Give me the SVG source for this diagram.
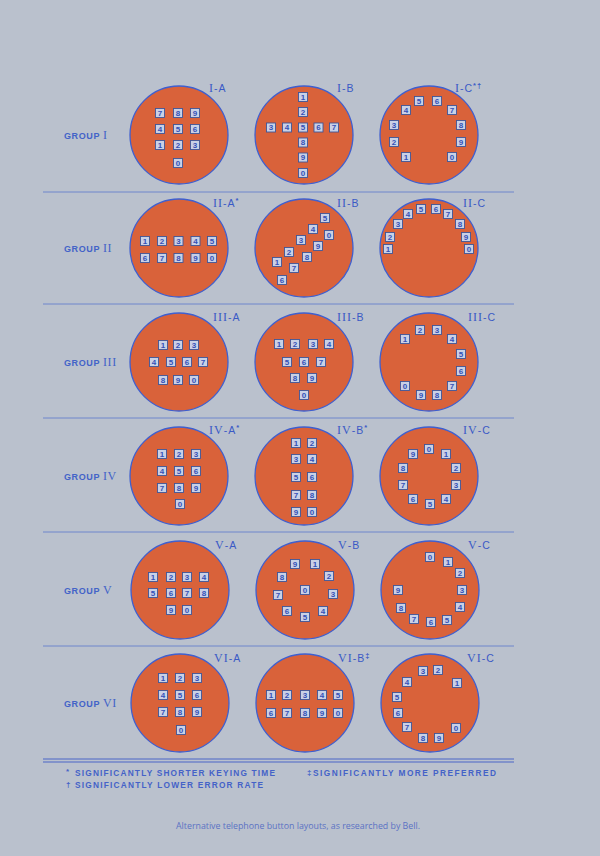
<svg xmlns="http://www.w3.org/2000/svg" width="600" height="856" viewBox="0 0 600 856">
<style>
.c{fill:#d9623a;stroke:#3f5fcf;stroke-width:1.3}
.k rect{fill:#c9d1e6;stroke:#3f5598;stroke-width:.9}
.k text{font-family:"Liberation Sans",Arial,sans-serif;font-weight:bold;font-size:8px;fill:#3450b8;text-anchor:middle}
.lbl{font-family:"Liberation Sans",Arial,sans-serif;font-size:10.5px;fill:#3a5ac6;letter-spacing:1px}
.rn{font-family:"Liberation Serif","Times New Roman",serif;font-size:12px}
.sup{font-size:7.5px;font-weight:bold}
.grp{font-family:"Liberation Sans",Arial,sans-serif;font-weight:bold;font-size:9px;fill:#4363c8;letter-spacing:.6px}
.rule{stroke:#6f86cc;stroke-width:1;fill:none}
.rule2{stroke:#4a66c8;stroke-width:1.1;fill:none}
.fn{font-family:"Liberation Sans",Arial,sans-serif;font-weight:bold;font-size:8.3px;fill:#4462c8}
.cap{font-family:"Open Sans","Liberation Sans",sans-serif;font-size:8.8px;fill:#5b72c4;text-anchor:middle}
</style>
<rect width="600" height="856" fill="#bac1cd"/>
<g id="connectors"></g>
<g id="rules">
<line class="rule" x1="43" y1="192" x2="514" y2="192"/>
<line class="rule" x1="43" y1="304" x2="514" y2="304"/>
<line class="rule" x1="43" y1="418" x2="514" y2="418"/>
<line class="rule" x1="43" y1="532" x2="514" y2="532"/>
<line class="rule" x1="43" y1="646" x2="514" y2="646"/>
<line class="rule2" x1="43" y1="759" x2="514" y2="759"/>
<line class="rule2" x1="43" y1="762" x2="514" y2="762"/>
</g>

<!-- GROUP I -->
<g id="group-1">
<text class="grp" x="64" y="139">GROUP <tspan class="rn" font-weight="normal">I</tspan></text>
<g id="I-A">
<circle class="c" cx="179" cy="135" r="49"/>
<text class="lbl" x="209" y="92"><tspan class="rn">I</tspan>-A</text>
<g class="k" transform="translate(160 113)"><rect x="-4.5" y="-4.5" width="9" height="9"/><text y="2.9">7</text></g>
<g class="k" transform="translate(178 113)"><rect x="-4.5" y="-4.5" width="9" height="9"/><text y="2.9">8</text></g>
<g class="k" transform="translate(195 113)"><rect x="-4.5" y="-4.5" width="9" height="9"/><text y="2.9">9</text></g>
<g class="k" transform="translate(160 129)"><rect x="-4.5" y="-4.5" width="9" height="9"/><text y="2.9">4</text></g>
<g class="k" transform="translate(178 129)"><rect x="-4.5" y="-4.5" width="9" height="9"/><text y="2.9">5</text></g>
<g class="k" transform="translate(195 129)"><rect x="-4.5" y="-4.5" width="9" height="9"/><text y="2.9">6</text></g>
<g class="k" transform="translate(160 145)"><rect x="-4.5" y="-4.5" width="9" height="9"/><text y="2.9">1</text></g>
<g class="k" transform="translate(178 145)"><rect x="-4.5" y="-4.5" width="9" height="9"/><text y="2.9">2</text></g>
<g class="k" transform="translate(195 145)"><rect x="-4.5" y="-4.5" width="9" height="9"/><text y="2.9">3</text></g>
<g class="k" transform="translate(178 163)"><rect x="-4.5" y="-4.5" width="9" height="9"/><text y="2.9">0</text></g>
</g>
<g id="I-B">
<circle class="c" cx="304" cy="135" r="49"/>
<text class="lbl" x="337" y="92"><tspan class="rn">I</tspan>-B</text>
<g class="k" transform="translate(303 97)"><rect x="-4.5" y="-4.5" width="9" height="9"/><text y="2.9">1</text></g>
<g class="k" transform="translate(303 112)"><rect x="-4.5" y="-4.5" width="9" height="9"/><text y="2.9">2</text></g>
<g class="k" transform="translate(271 127.5)"><rect x="-4.5" y="-4.5" width="9" height="9"/><text y="2.9">3</text></g>
<g class="k" transform="translate(287 127.5)"><rect x="-4.5" y="-4.5" width="9" height="9"/><text y="2.9">4</text></g>
<g class="k" transform="translate(303 127.5)"><rect x="-4.5" y="-4.5" width="9" height="9"/><text y="2.9">5</text></g>
<g class="k" transform="translate(318.5 127.5)"><rect x="-4.5" y="-4.5" width="9" height="9"/><text y="2.9">6</text></g>
<g class="k" transform="translate(334 127.5)"><rect x="-4.5" y="-4.5" width="9" height="9"/><text y="2.9">7</text></g>
<g class="k" transform="translate(303 142.5)"><rect x="-4.5" y="-4.5" width="9" height="9"/><text y="2.9">8</text></g>
<g class="k" transform="translate(303 157.5)"><rect x="-4.5" y="-4.5" width="9" height="9"/><text y="2.9">9</text></g>
<g class="k" transform="translate(303 173)"><rect x="-4.5" y="-4.5" width="9" height="9"/><text y="2.9">0</text></g>
</g>
<g id="I-C">
<circle class="c" cx="429" cy="135" r="49"/>
<text class="lbl" x="455" y="92"><tspan class="rn">I</tspan>-C<tspan class="sup" dy="-4">*†</tspan></text>
<g class="k" transform="translate(419 101)"><rect x="-4.5" y="-4.5" width="9" height="9"/><text y="2.9">5</text></g>
<g class="k" transform="translate(437 101)"><rect x="-4.5" y="-4.5" width="9" height="9"/><text y="2.9">6</text></g>
<g class="k" transform="translate(406 110)"><rect x="-4.5" y="-4.5" width="9" height="9"/><text y="2.9">4</text></g>
<g class="k" transform="translate(452 110)"><rect x="-4.5" y="-4.5" width="9" height="9"/><text y="2.9">7</text></g>
<g class="k" transform="translate(394 125)"><rect x="-4.5" y="-4.5" width="9" height="9"/><text y="2.9">3</text></g>
<g class="k" transform="translate(461 125)"><rect x="-4.5" y="-4.5" width="9" height="9"/><text y="2.9">8</text></g>
<g class="k" transform="translate(394 142)"><rect x="-4.5" y="-4.5" width="9" height="9"/><text y="2.9">2</text></g>
<g class="k" transform="translate(461 142)"><rect x="-4.5" y="-4.5" width="9" height="9"/><text y="2.9">9</text></g>
<g class="k" transform="translate(406 157)"><rect x="-4.5" y="-4.5" width="9" height="9"/><text y="2.9">1</text></g>
<g class="k" transform="translate(452 157)"><rect x="-4.5" y="-4.5" width="9" height="9"/><text y="2.9">0</text></g>
</g>
</g>

<!-- GROUP II -->
<g id="group-2">
<text class="grp" x="64" y="252">GROUP <tspan class="rn" font-weight="normal">II</tspan></text>
<g id="II-A">
<circle class="c" cx="179" cy="248" r="49"/>
<text class="lbl" x="213" y="207"><tspan class="rn">II</tspan>-A<tspan class="sup" dy="-4">*</tspan></text>
<g class="k" transform="translate(145 241)"><rect x="-4.5" y="-4.5" width="9" height="9"/><text y="2.9">1</text></g>
<g class="k" transform="translate(162 241)"><rect x="-4.5" y="-4.5" width="9" height="9"/><text y="2.9">2</text></g>
<g class="k" transform="translate(178.5 241)"><rect x="-4.5" y="-4.5" width="9" height="9"/><text y="2.9">3</text></g>
<g class="k" transform="translate(195.5 241)"><rect x="-4.5" y="-4.5" width="9" height="9"/><text y="2.9">4</text></g>
<g class="k" transform="translate(212 241)"><rect x="-4.5" y="-4.5" width="9" height="9"/><text y="2.9">5</text></g>
<g class="k" transform="translate(145 258)"><rect x="-4.5" y="-4.5" width="9" height="9"/><text y="2.9">6</text></g>
<g class="k" transform="translate(162 258)"><rect x="-4.5" y="-4.5" width="9" height="9"/><text y="2.9">7</text></g>
<g class="k" transform="translate(178.5 258)"><rect x="-4.5" y="-4.5" width="9" height="9"/><text y="2.9">8</text></g>
<g class="k" transform="translate(195.5 258)"><rect x="-4.5" y="-4.5" width="9" height="9"/><text y="2.9">9</text></g>
<g class="k" transform="translate(212 258)"><rect x="-4.5" y="-4.5" width="9" height="9"/><text y="2.9">0</text></g>
</g>
<g id="II-B">
<circle class="c" cx="304" cy="248" r="49"/>
<text class="lbl" x="337" y="207"><tspan class="rn">II</tspan>-B</text>
<g class="k" transform="translate(325 218)"><rect x="-4.5" y="-4.5" width="9" height="9"/><text y="2.9">5</text></g>
<g class="k" transform="translate(313 229)"><rect x="-4.5" y="-4.5" width="9" height="9"/><text y="2.9">4</text></g>
<g class="k" transform="translate(329 235)"><rect x="-4.5" y="-4.5" width="9" height="9"/><text y="2.9">0</text></g>
<g class="k" transform="translate(301 240)"><rect x="-4.5" y="-4.5" width="9" height="9"/><text y="2.9">3</text></g>
<g class="k" transform="translate(318 246)"><rect x="-4.5" y="-4.5" width="9" height="9"/><text y="2.9">9</text></g>
<g class="k" transform="translate(289 252)"><rect x="-4.5" y="-4.5" width="9" height="9"/><text y="2.9">2</text></g>
<g class="k" transform="translate(307 257)"><rect x="-4.5" y="-4.5" width="9" height="9"/><text y="2.9">8</text></g>
<g class="k" transform="translate(277 262)"><rect x="-4.5" y="-4.5" width="9" height="9"/><text y="2.9">1</text></g>
<g class="k" transform="translate(294 268)"><rect x="-4.5" y="-4.5" width="9" height="9"/><text y="2.9">7</text></g>
<g class="k" transform="translate(282 280)"><rect x="-4.5" y="-4.5" width="9" height="9"/><text y="2.9">6</text></g>
</g>
<g id="II-C">
<circle class="c" cx="429" cy="248" r="49"/>
<text class="lbl" x="463" y="207"><tspan class="rn">II</tspan>-C</text>
<g class="k" transform="translate(421 209)"><rect x="-4.5" y="-4.5" width="9" height="9"/><text y="2.9">5</text></g>
<g class="k" transform="translate(436 209)"><rect x="-4.5" y="-4.5" width="9" height="9"/><text y="2.9">6</text></g>
<g class="k" transform="translate(408 214)"><rect x="-4.5" y="-4.5" width="9" height="9"/><text y="2.9">4</text></g>
<g class="k" transform="translate(448 214)"><rect x="-4.5" y="-4.5" width="9" height="9"/><text y="2.9">7</text></g>
<g class="k" transform="translate(398 224)"><rect x="-4.5" y="-4.5" width="9" height="9"/><text y="2.9">3</text></g>
<g class="k" transform="translate(460 224)"><rect x="-4.5" y="-4.5" width="9" height="9"/><text y="2.9">8</text></g>
<g class="k" transform="translate(390 237)"><rect x="-4.5" y="-4.5" width="9" height="9"/><text y="2.9">2</text></g>
<g class="k" transform="translate(466 237)"><rect x="-4.5" y="-4.5" width="9" height="9"/><text y="2.9">9</text></g>
<g class="k" transform="translate(388 249)"><rect x="-4.5" y="-4.5" width="9" height="9"/><text y="2.9">1</text></g>
<g class="k" transform="translate(469 249)"><rect x="-4.5" y="-4.5" width="9" height="9"/><text y="2.9">0</text></g>
</g>
</g>

<!-- GROUP III -->
<g id="group-3">
<text class="grp" x="64" y="366">GROUP <tspan class="rn" font-weight="normal">III</tspan></text>
<g id="III-A">
<circle class="c" cx="179" cy="362" r="49"/>
<text class="lbl" x="213" y="321"><tspan class="rn">III</tspan>-A</text>
<g class="k" transform="translate(163 345)"><rect x="-4.5" y="-4.5" width="9" height="9"/><text y="2.9">1</text></g>
<g class="k" transform="translate(178 345)"><rect x="-4.5" y="-4.5" width="9" height="9"/><text y="2.9">2</text></g>
<g class="k" transform="translate(194 345)"><rect x="-4.5" y="-4.5" width="9" height="9"/><text y="2.9">3</text></g>
<g class="k" transform="translate(154 362)"><rect x="-4.5" y="-4.5" width="9" height="9"/><text y="2.9">4</text></g>
<g class="k" transform="translate(171 362)"><rect x="-4.5" y="-4.5" width="9" height="9"/><text y="2.9">5</text></g>
<g class="k" transform="translate(187 362)"><rect x="-4.5" y="-4.5" width="9" height="9"/><text y="2.9">6</text></g>
<g class="k" transform="translate(203 362)"><rect x="-4.5" y="-4.5" width="9" height="9"/><text y="2.9">7</text></g>
<g class="k" transform="translate(163 380)"><rect x="-4.5" y="-4.5" width="9" height="9"/><text y="2.9">8</text></g>
<g class="k" transform="translate(178 380)"><rect x="-4.5" y="-4.5" width="9" height="9"/><text y="2.9">9</text></g>
<g class="k" transform="translate(194 380)"><rect x="-4.5" y="-4.5" width="9" height="9"/><text y="2.9">0</text></g>
</g>
<g id="III-B">
<circle class="c" cx="304" cy="362" r="49"/>
<text class="lbl" x="337" y="321"><tspan class="rn">III</tspan>-B</text>
<g class="k" transform="translate(279 344)"><rect x="-4.5" y="-4.5" width="9" height="9"/><text y="2.9">1</text></g>
<g class="k" transform="translate(295 344)"><rect x="-4.5" y="-4.5" width="9" height="9"/><text y="2.9">2</text></g>
<g class="k" transform="translate(313 344)"><rect x="-4.5" y="-4.5" width="9" height="9"/><text y="2.9">3</text></g>
<g class="k" transform="translate(329 344)"><rect x="-4.5" y="-4.5" width="9" height="9"/><text y="2.9">4</text></g>
<g class="k" transform="translate(287 362)"><rect x="-4.5" y="-4.5" width="9" height="9"/><text y="2.9">5</text></g>
<g class="k" transform="translate(304 362)"><rect x="-4.5" y="-4.5" width="9" height="9"/><text y="2.9">6</text></g>
<g class="k" transform="translate(321 362)"><rect x="-4.5" y="-4.5" width="9" height="9"/><text y="2.9">7</text></g>
<g class="k" transform="translate(295 378)"><rect x="-4.5" y="-4.5" width="9" height="9"/><text y="2.9">8</text></g>
<g class="k" transform="translate(312 378)"><rect x="-4.5" y="-4.5" width="9" height="9"/><text y="2.9">9</text></g>
<g class="k" transform="translate(304 395)"><rect x="-4.5" y="-4.5" width="9" height="9"/><text y="2.9">0</text></g>
</g>
<g id="III-C">
<circle class="c" cx="429" cy="362" r="49"/>
<text class="lbl" x="468" y="321"><tspan class="rn">III</tspan>-C</text>
<g class="k" transform="translate(405 339)"><rect x="-4.5" y="-4.5" width="9" height="9"/><text y="2.9">1</text></g>
<g class="k" transform="translate(420 330)"><rect x="-4.5" y="-4.5" width="9" height="9"/><text y="2.9">2</text></g>
<g class="k" transform="translate(437 330)"><rect x="-4.5" y="-4.5" width="9" height="9"/><text y="2.9">3</text></g>
<g class="k" transform="translate(452 339)"><rect x="-4.5" y="-4.5" width="9" height="9"/><text y="2.9">4</text></g>
<g class="k" transform="translate(461 354)"><rect x="-4.5" y="-4.5" width="9" height="9"/><text y="2.9">5</text></g>
<g class="k" transform="translate(461 371)"><rect x="-4.5" y="-4.5" width="9" height="9"/><text y="2.9">6</text></g>
<g class="k" transform="translate(452 386)"><rect x="-4.5" y="-4.5" width="9" height="9"/><text y="2.9">7</text></g>
<g class="k" transform="translate(437 395)"><rect x="-4.5" y="-4.5" width="9" height="9"/><text y="2.9">8</text></g>
<g class="k" transform="translate(421 395)"><rect x="-4.5" y="-4.5" width="9" height="9"/><text y="2.9">9</text></g>
<g class="k" transform="translate(405 386)"><rect x="-4.5" y="-4.5" width="9" height="9"/><text y="2.9">0</text></g>
</g>
</g>

<!-- GROUP IV -->
<g id="group-4">
<text class="grp" x="64" y="480">GROUP <tspan class="rn" font-weight="normal">IV</tspan></text>
<g id="IV-A">
<circle class="c" cx="179" cy="476" r="49"/>
<text class="lbl" x="209" y="434"><tspan class="rn">IV</tspan>-A<tspan class="sup" dy="-4">*</tspan></text>
<g class="k" transform="translate(162 454)"><rect x="-4.5" y="-4.5" width="9" height="9"/><text y="2.9">1</text></g>
<g class="k" transform="translate(179 454)"><rect x="-4.5" y="-4.5" width="9" height="9"/><text y="2.9">2</text></g>
<g class="k" transform="translate(196 454)"><rect x="-4.5" y="-4.5" width="9" height="9"/><text y="2.9">3</text></g>
<g class="k" transform="translate(162 471)"><rect x="-4.5" y="-4.5" width="9" height="9"/><text y="2.9">4</text></g>
<g class="k" transform="translate(179 471)"><rect x="-4.5" y="-4.5" width="9" height="9"/><text y="2.9">5</text></g>
<g class="k" transform="translate(196 471)"><rect x="-4.5" y="-4.5" width="9" height="9"/><text y="2.9">6</text></g>
<g class="k" transform="translate(162 488)"><rect x="-4.5" y="-4.5" width="9" height="9"/><text y="2.9">7</text></g>
<g class="k" transform="translate(179 488)"><rect x="-4.5" y="-4.5" width="9" height="9"/><text y="2.9">8</text></g>
<g class="k" transform="translate(196 488)"><rect x="-4.5" y="-4.5" width="9" height="9"/><text y="2.9">9</text></g>
<g class="k" transform="translate(180 504)"><rect x="-4.5" y="-4.5" width="9" height="9"/><text y="2.9">0</text></g>
</g>
<g id="IV-B">
<circle class="c" cx="304" cy="476" r="49"/>
<text class="lbl" x="337" y="434"><tspan class="rn">IV</tspan>-B<tspan class="sup" dy="-4">*</tspan></text>
<g class="k" transform="translate(296 443)"><rect x="-4.5" y="-4.5" width="9" height="9"/><text y="2.9">1</text></g>
<g class="k" transform="translate(312 443)"><rect x="-4.5" y="-4.5" width="9" height="9"/><text y="2.9">2</text></g>
<g class="k" transform="translate(296 459)"><rect x="-4.5" y="-4.5" width="9" height="9"/><text y="2.9">3</text></g>
<g class="k" transform="translate(312 459)"><rect x="-4.5" y="-4.5" width="9" height="9"/><text y="2.9">4</text></g>
<g class="k" transform="translate(296 477)"><rect x="-4.5" y="-4.5" width="9" height="9"/><text y="2.9">5</text></g>
<g class="k" transform="translate(312 477)"><rect x="-4.5" y="-4.5" width="9" height="9"/><text y="2.9">6</text></g>
<g class="k" transform="translate(296 495)"><rect x="-4.5" y="-4.5" width="9" height="9"/><text y="2.9">7</text></g>
<g class="k" transform="translate(312 495)"><rect x="-4.5" y="-4.5" width="9" height="9"/><text y="2.9">8</text></g>
<g class="k" transform="translate(296 512)"><rect x="-4.5" y="-4.5" width="9" height="9"/><text y="2.9">9</text></g>
<g class="k" transform="translate(312 512)"><rect x="-4.5" y="-4.5" width="9" height="9"/><text y="2.9">0</text></g>
</g>
<g id="IV-C">
<circle class="c" cx="429" cy="476" r="49"/>
<text class="lbl" x="463" y="434"><tspan class="rn">IV</tspan>-C</text>
<g class="k" transform="translate(429 449)"><rect x="-4.5" y="-4.5" width="9" height="9"/><text y="2.9">0</text></g>
<g class="k" transform="translate(413 454)"><rect x="-4.5" y="-4.5" width="9" height="9"/><text y="2.9">9</text></g>
<g class="k" transform="translate(446 454)"><rect x="-4.5" y="-4.5" width="9" height="9"/><text y="2.9">1</text></g>
<g class="k" transform="translate(403 468)"><rect x="-4.5" y="-4.5" width="9" height="9"/><text y="2.9">8</text></g>
<g class="k" transform="translate(456 468)"><rect x="-4.5" y="-4.5" width="9" height="9"/><text y="2.9">2</text></g>
<g class="k" transform="translate(403 485)"><rect x="-4.5" y="-4.5" width="9" height="9"/><text y="2.9">7</text></g>
<g class="k" transform="translate(456 485)"><rect x="-4.5" y="-4.5" width="9" height="9"/><text y="2.9">3</text></g>
<g class="k" transform="translate(413 499)"><rect x="-4.5" y="-4.5" width="9" height="9"/><text y="2.9">6</text></g>
<g class="k" transform="translate(446 499)"><rect x="-4.5" y="-4.5" width="9" height="9"/><text y="2.9">4</text></g>
<g class="k" transform="translate(430 504)"><rect x="-4.5" y="-4.5" width="9" height="9"/><text y="2.9">5</text></g>
</g>
</g>

<!-- GROUP V -->
<g id="group-5">
<text class="grp" x="64" y="594">GROUP <tspan class="rn" font-weight="normal">V</tspan></text>
<g id="V-A">
<circle class="c" cx="180" cy="590" r="49"/>
<text class="lbl" x="215" y="549"><tspan class="rn">V</tspan>-A</text>
<g class="k" transform="translate(153 577)"><rect x="-4.5" y="-4.5" width="9" height="9"/><text y="2.9">1</text></g>
<g class="k" transform="translate(171 577)"><rect x="-4.5" y="-4.5" width="9" height="9"/><text y="2.9">2</text></g>
<g class="k" transform="translate(187 577)"><rect x="-4.5" y="-4.5" width="9" height="9"/><text y="2.9">3</text></g>
<g class="k" transform="translate(204 577)"><rect x="-4.5" y="-4.5" width="9" height="9"/><text y="2.9">4</text></g>
<g class="k" transform="translate(153 593)"><rect x="-4.5" y="-4.5" width="9" height="9"/><text y="2.9">5</text></g>
<g class="k" transform="translate(171 593)"><rect x="-4.5" y="-4.5" width="9" height="9"/><text y="2.9">6</text></g>
<g class="k" transform="translate(187 593)"><rect x="-4.5" y="-4.5" width="9" height="9"/><text y="2.9">7</text></g>
<g class="k" transform="translate(204 593)"><rect x="-4.5" y="-4.5" width="9" height="9"/><text y="2.9">8</text></g>
<g class="k" transform="translate(171 610)"><rect x="-4.5" y="-4.5" width="9" height="9"/><text y="2.9">9</text></g>
<g class="k" transform="translate(187 610)"><rect x="-4.5" y="-4.5" width="9" height="9"/><text y="2.9">0</text></g>
</g>
<g id="V-B">
<circle class="c" cx="305" cy="590" r="49"/>
<text class="lbl" x="338" y="549"><tspan class="rn">V</tspan>-B</text>
<g class="k" transform="translate(295 564)"><rect x="-4.5" y="-4.5" width="9" height="9"/><text y="2.9">9</text></g>
<g class="k" transform="translate(315 564)"><rect x="-4.5" y="-4.5" width="9" height="9"/><text y="2.9">1</text></g>
<g class="k" transform="translate(282 577)"><rect x="-4.5" y="-4.5" width="9" height="9"/><text y="2.9">8</text></g>
<g class="k" transform="translate(329 576)"><rect x="-4.5" y="-4.5" width="9" height="9"/><text y="2.9">2</text></g>
<g class="k" transform="translate(305 590)"><rect x="-4.5" y="-4.5" width="9" height="9"/><text y="2.9">0</text></g>
<g class="k" transform="translate(278 595)"><rect x="-4.5" y="-4.5" width="9" height="9"/><text y="2.9">7</text></g>
<g class="k" transform="translate(333 594)"><rect x="-4.5" y="-4.5" width="9" height="9"/><text y="2.9">3</text></g>
<g class="k" transform="translate(287 611)"><rect x="-4.5" y="-4.5" width="9" height="9"/><text y="2.9">6</text></g>
<g class="k" transform="translate(323 611)"><rect x="-4.5" y="-4.5" width="9" height="9"/><text y="2.9">4</text></g>
<g class="k" transform="translate(305 617)"><rect x="-4.5" y="-4.5" width="9" height="9"/><text y="2.9">5</text></g>
</g>
<g id="V-C">
<circle class="c" cx="430" cy="590" r="49"/>
<text class="lbl" x="468" y="549"><tspan class="rn">V</tspan>-C</text>
<g class="k" transform="translate(430 557)"><rect x="-4.5" y="-4.5" width="9" height="9"/><text y="2.9">0</text></g>
<g class="k" transform="translate(448 562)"><rect x="-4.5" y="-4.5" width="9" height="9"/><text y="2.9">1</text></g>
<g class="k" transform="translate(460 573)"><rect x="-4.5" y="-4.5" width="9" height="9"/><text y="2.9">2</text></g>
<g class="k" transform="translate(462 590)"><rect x="-4.5" y="-4.5" width="9" height="9"/><text y="2.9">3</text></g>
<g class="k" transform="translate(460 607)"><rect x="-4.5" y="-4.5" width="9" height="9"/><text y="2.9">4</text></g>
<g class="k" transform="translate(447 620)"><rect x="-4.5" y="-4.5" width="9" height="9"/><text y="2.9">5</text></g>
<g class="k" transform="translate(431 622)"><rect x="-4.5" y="-4.5" width="9" height="9"/><text y="2.9">6</text></g>
<g class="k" transform="translate(414 619)"><rect x="-4.5" y="-4.5" width="9" height="9"/><text y="2.9">7</text></g>
<g class="k" transform="translate(401 608)"><rect x="-4.5" y="-4.5" width="9" height="9"/><text y="2.9">8</text></g>
<g class="k" transform="translate(398 590)"><rect x="-4.5" y="-4.5" width="9" height="9"/><text y="2.9">9</text></g>
</g>
</g>

<!-- GROUP VI -->
<g id="group-6">
<text class="grp" x="64" y="707">GROUP <tspan class="rn" font-weight="normal">VI</tspan></text>
<g id="VI-A">
<circle class="c" cx="180" cy="703" r="49"/>
<text class="lbl" x="214" y="662"><tspan class="rn">VI</tspan>-A</text>
<g class="k" transform="translate(163 678)"><rect x="-4.5" y="-4.5" width="9" height="9"/><text y="2.9">1</text></g>
<g class="k" transform="translate(180 678)"><rect x="-4.5" y="-4.5" width="9" height="9"/><text y="2.9">2</text></g>
<g class="k" transform="translate(197 678)"><rect x="-4.5" y="-4.5" width="9" height="9"/><text y="2.9">3</text></g>
<g class="k" transform="translate(163 695)"><rect x="-4.5" y="-4.5" width="9" height="9"/><text y="2.9">4</text></g>
<g class="k" transform="translate(180 695)"><rect x="-4.5" y="-4.5" width="9" height="9"/><text y="2.9">5</text></g>
<g class="k" transform="translate(197 695)"><rect x="-4.5" y="-4.5" width="9" height="9"/><text y="2.9">6</text></g>
<g class="k" transform="translate(163 712)"><rect x="-4.5" y="-4.5" width="9" height="9"/><text y="2.9">7</text></g>
<g class="k" transform="translate(180 712)"><rect x="-4.5" y="-4.5" width="9" height="9"/><text y="2.9">8</text></g>
<g class="k" transform="translate(197 712)"><rect x="-4.5" y="-4.5" width="9" height="9"/><text y="2.9">9</text></g>
<g class="k" transform="translate(181 730)"><rect x="-4.5" y="-4.5" width="9" height="9"/><text y="2.9">0</text></g>
</g>
<g id="VI-B">
<circle class="c" cx="305" cy="703" r="49"/>
<text class="lbl" x="338" y="662"><tspan class="rn">VI</tspan>-B<tspan class="sup" dy="-4">‡</tspan></text>
<g class="k" transform="translate(271 695)"><rect x="-4.5" y="-4.5" width="9" height="9"/><text y="2.9">1</text></g>
<g class="k" transform="translate(287 695)"><rect x="-4.5" y="-4.5" width="9" height="9"/><text y="2.9">2</text></g>
<g class="k" transform="translate(305 695)"><rect x="-4.5" y="-4.5" width="9" height="9"/><text y="2.9">3</text></g>
<g class="k" transform="translate(322 695)"><rect x="-4.5" y="-4.5" width="9" height="9"/><text y="2.9">4</text></g>
<g class="k" transform="translate(338 695)"><rect x="-4.5" y="-4.5" width="9" height="9"/><text y="2.9">5</text></g>
<g class="k" transform="translate(271 713)"><rect x="-4.5" y="-4.5" width="9" height="9"/><text y="2.9">6</text></g>
<g class="k" transform="translate(287 713)"><rect x="-4.5" y="-4.5" width="9" height="9"/><text y="2.9">7</text></g>
<g class="k" transform="translate(305 713)"><rect x="-4.5" y="-4.5" width="9" height="9"/><text y="2.9">8</text></g>
<g class="k" transform="translate(322 713)"><rect x="-4.5" y="-4.5" width="9" height="9"/><text y="2.9">9</text></g>
<g class="k" transform="translate(338 713)"><rect x="-4.5" y="-4.5" width="9" height="9"/><text y="2.9">0</text></g>
</g>
<g id="VI-C">
<circle class="c" cx="430" cy="703" r="49"/>
<text class="lbl" x="467" y="662"><tspan class="rn">VI</tspan>-C</text>
<g class="k" transform="translate(423 671)"><rect x="-4.5" y="-4.5" width="9" height="9"/><text y="2.9">3</text></g>
<g class="k" transform="translate(438 670)"><rect x="-4.5" y="-4.5" width="9" height="9"/><text y="2.9">2</text></g>
<g class="k" transform="translate(457 683)"><rect x="-4.5" y="-4.5" width="9" height="9"/><text y="2.9">1</text></g>
<g class="k" transform="translate(407 682)"><rect x="-4.5" y="-4.5" width="9" height="9"/><text y="2.9">4</text></g>
<g class="k" transform="translate(397 697)"><rect x="-4.5" y="-4.5" width="9" height="9"/><text y="2.9">5</text></g>
<g class="k" transform="translate(398 713)"><rect x="-4.5" y="-4.5" width="9" height="9"/><text y="2.9">6</text></g>
<g class="k" transform="translate(407 727)"><rect x="-4.5" y="-4.5" width="9" height="9"/><text y="2.9">7</text></g>
<g class="k" transform="translate(423 738)"><rect x="-4.5" y="-4.5" width="9" height="9"/><text y="2.9">8</text></g>
<g class="k" transform="translate(439 738)"><rect x="-4.5" y="-4.5" width="9" height="9"/><text y="2.9">9</text></g>
<g class="k" transform="translate(456 728)"><rect x="-4.5" y="-4.5" width="9" height="9"/><text y="2.9">0</text></g>
</g>
</g>

<g id="footnotes">
<text class="fn" x="66" y="775.5"><tspan font-size="8px" dy="-2">*</tspan><tspan x="75" dy="2" textLength="200" lengthAdjust="spacing">SIGNIFICANTLY SHORTER KEYING TIME</tspan></text>
<text class="fn" x="66" y="788"><tspan font-size="8px" dy="-1">†</tspan><tspan x="75" dy="1" textLength="188" lengthAdjust="spacing">SIGNIFICANTLY LOWER ERROR RATE</tspan></text>
<text class="fn" x="307" y="775.5"><tspan font-size="8px" dy="-1">‡</tspan><tspan x="313" dy="1" textLength="183" lengthAdjust="spacing">SIGNIFICANTLY MORE PREFERRED</tspan></text>
</g>
<text class="cap" x="298" y="829">Alternative telephone button layouts, as researched by Bell.</text>
</svg>
